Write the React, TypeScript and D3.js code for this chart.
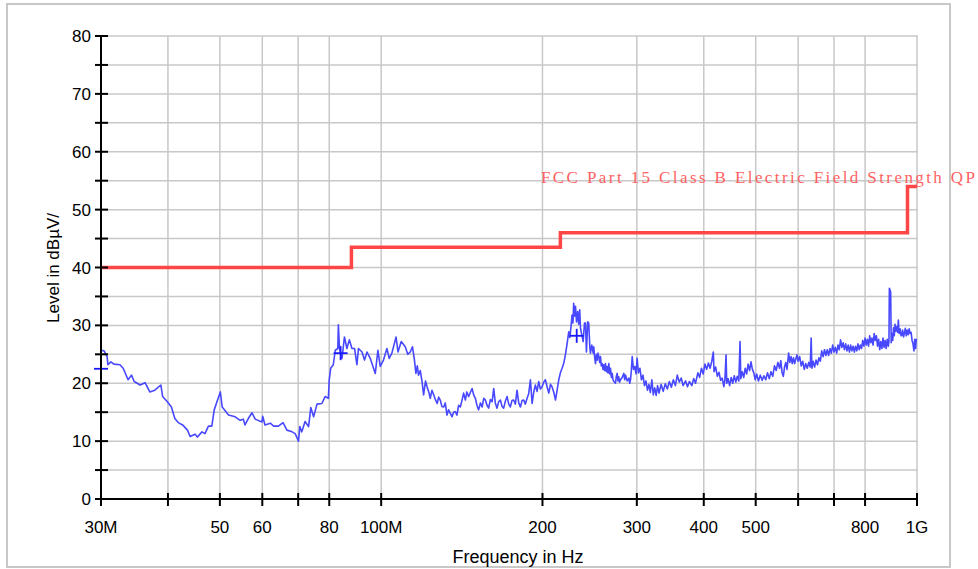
import React from 'react';
import * as d3 from 'd3';

// Frequencies in MHz, levels in dBµV/m
const xTickFreqs = [30, 40, 50, 60, 70, 80, 100, 200, 300, 400, 500, 600, 700, 800, 1000];
const xTickLabels: Record<number, string> = {
    30: '30M', 50: '50', 60: '60', 80: '80', 100: '100M',
    200: '200', 300: '300', 400: '400', 500: '500', 800: '800', 1000: '1G',
};
const yTicks = [0, 5, 10, 15, 20, 25, 30, 35, 40, 45, 50, 55, 60, 65, 70, 75, 80];
const yLabels = [0, 10, 20, 30, 40, 50, 60, 70, 80];

const limitFreq = [30, 88, 88, 216, 216, 960, 960, 1000];
const limitLevel = [40, 40, 43.5, 43.5, 46, 46, 54, 54];
const limitName = 'FCC Part 15 Class B Electric Field Strength QP';

const markers: [number, number][] = [[30, 22.5], [84, 25.2], [231.7, 28.2]];

const trace: [number, number][] = [
    [30.0, 25.7], [30.4, 25.6], [30.8, 24.6], [30.9, 23.2], [31.3, 23.7], [31.7, 23.3],
    [32.55, 23.2], [33.0, 22.6], [33.7, 20.6], [34.2, 21.4], [34.6, 20.3], [35.5, 19.7],
    [36.25, 20.1], [37.0, 18.5], [37.8, 18.8], [38.8, 19.7], [39.1, 17.7], [39.9, 16.8],
    [40.6, 15.9], [41.2, 13.9], [41.8, 13.2], [42.6, 12.8], [43.5, 11.9], [44.0, 10.8],
    [44.95, 11.2], [45.4, 10.7], [46.3, 11.6], [46.9, 11.3], [47.6, 12.6], [48.3, 12.6],
    [48.8, 15.4], [49.5, 17.1], [50.1, 18.5], [50.5, 15.9], [51.9, 14.5], [53.4, 14.2],
    [54.55, 13.6], [55.3, 13.8], [55.7, 12.8], [56.5, 13.9], [57.4, 14.9], [58.2, 13.8],
    [59.9, 13.3], [60.1, 14.3], [60.7, 12.8], [62.1, 13.1], [63.0, 12.6], [64.3, 12.6],
    [65.6, 13.2], [66.7, 11.9], [68.2, 11.6], [69.1, 11.3], [70.1, 10.0], [70.5, 12.5],
    [71.1, 11.6], [72.1, 13.4], [73.2, 12.5], [73.9, 15.8], [74.8, 14.2], [75.9, 16.4],
    [77.5, 16.5], [78.6, 17.7], [79.7, 17.4], [80.0, 20.6], [80.5, 22.6], [81.4, 23.2],
    [82.1, 25.7], [83.0, 26.0], [83.2, 30.1], [83.6, 26.0], [84.5, 24.3], [85.4, 28.0],
    [86.3, 26.0], [87.2, 27.5], [88.2, 26.0], [89.2, 26.0], [90.1, 23.2], [90.7, 26.0],
    [92.1, 25.4], [93.1, 24.0], [94.1, 25.4], [95.4, 24.3], [97.5, 21.7], [98.6, 25.7],
    [99.6, 22.9], [101.0, 24.0], [102.5, 26.0], [103.5, 24.3], [104.7, 25.2], [106.6, 28.0],
    [107.5, 25.4], [109.0, 27.2], [110.9, 26.3], [112.1, 25.0], [113.3, 25.4], [114.4, 26.3],
    [115.3, 24.2], [116.1, 21.7], [116.8, 23.0], [117.4, 21.4], [118.3, 22.2], [119.2, 20.3],
    [120.0, 18.0], [121.0, 20.4], [121.8, 19.4], [122.7, 18.5], [123.5, 17.4], [124.4, 18.8],
    [125.3, 18.0], [126.2, 17.2], [127.2, 16.5], [128.0, 17.6], [128.9, 17.1], [129.8, 16.0],
    [130.8, 15.9], [131.7, 16.6], [132.7, 14.5], [133.6, 15.4], [134.6, 14.8], [135.6, 14.2],
    [136.5, 15.0], [137.5, 15.1], [138.5, 14.5], [139.5, 16.2], [140.5, 15.9], [141.5, 17.0],
    [142.5, 18.3], [143.6, 17.1], [144.5, 18.5], [145.6, 17.7], [146.7, 18.4], [147.8, 19.1],
    [148.8, 18.0], [149.9, 17.4], [150.9, 16.2], [152.0, 15.4], [153.2, 16.6], [154.3, 15.9],
    [155.4, 17.4], [156.5, 17.1], [157.6, 16.2], [158.7, 15.7], [159.9, 17.2], [161.1, 16.8],
    [162.2, 19.1], [163.3, 16.6], [164.5, 15.7], [165.7, 16.8], [166.9, 17.1], [168.1, 16.0],
    [169.3, 15.7], [170.5, 16.9], [171.8, 17.7], [173.0, 16.4], [174.2, 15.9], [175.4, 17.0],
    [176.7, 17.1], [178.0, 16.4], [179.3, 18.8], [180.6, 16.6], [181.9, 15.9], [183.2, 17.0],
    [184.5, 17.1], [185.8, 16.4], [187.2, 17.4], [188.5, 18.2], [189.9, 20.6], [191.3, 16.5],
    [192.6, 18.4], [194.0, 19.7], [195.4, 18.6], [196.8, 20.3], [198.2, 19.0], [199.7, 19.4],
    [201.1, 20.2], [202.5, 20.6], [204.0, 19.4], [205.5, 18.3], [207.0, 19.8], [208.4, 19.4],
    [210.0, 18.4], [211.5, 17.1], [213.0, 18.8], [214.5, 20.6], [216.0, 21.8], [217.6, 22.6],
    [219.1, 23.4], [220.7, 24.9], [222.3, 26.8], [223.9, 28.9], [225.0, 27.9], [226.1, 29.8],
    [227.1, 31.8], [228.0, 30.4], [228.7, 33.8], [229.6, 31.6], [230.5, 33.3], [231.5, 30.6],
    [232.7, 32.4], [233.6, 30.2], [234.7, 32.7], [235.5, 29.5], [236.8, 28.4], [238.2, 27.2],
    [239.6, 30.4], [240.6, 30.4], [241.6, 25.4], [242.9, 30.6], [244.0, 30.4], [245.1, 26.3],
    [245.8, 25.2], [247.2, 26.6], [248.7, 25.2], [249.3, 26.3], [250.2, 24.6], [251.2, 23.4],
    [252.1, 25.0], [253.0, 24.0], [253.9, 25.2], [254.8, 24.6], [255.7, 23.6], [256.6, 24.6],
    [257.5, 23.0], [258.5, 23.4], [259.4, 22.4], [260.3, 23.2], [261.2, 22.2], [262.2, 23.4],
    [263.1, 22.0], [264.1, 22.9], [265.0, 21.8], [266.0, 23.4], [267.0, 21.6], [267.9, 22.6],
    [268.9, 21.0], [269.9, 21.7], [270.8, 20.6], [271.8, 20.3], [273.7, 20.0], [274.7, 21.2],
    [275.7, 21.7], [276.6, 20.4], [277.6, 21.1], [278.6, 20.2], [279.7, 20.6], [281.7, 21.0],
    [283.7, 21.7], [284.8, 20.6], [285.8, 21.4], [287.9, 20.4], [289.9, 20.9], [291.0, 20.0],
    [292.0, 20.6], [293.0, 22.2], [294.1, 24.6], [295.7, 22.4], [297.4, 22.9], [298.9, 21.6],
    [300.4, 24.3], [302, 21.8], [304, 22.6], [306, 20.6], [308, 21.4], [310, 19.6], [312, 20.4],
    [314, 18.8], [316, 19.8], [318, 18.4], [320, 20.6], [322, 18.0], [324, 19.2], [326, 17.9],
    [328, 19.6], [330, 18.3], [333, 19.8], [336, 18.6], [339, 19.9], [342, 19.0], [345, 20.3],
    [348, 19.3], [351, 20.6], [354, 19.6], [357, 21.4], [360, 20.2], [363, 20.9], [366, 19.6],
    [370, 20.4], [373, 19.4], [376, 20.3], [380, 19.6], [383, 20.8], [386, 20.0], [390, 21.8],
    [393, 21.0], [396, 22.6], [399, 21.6], [402, 23.3], [405, 22.4], [408, 23.5], [411, 22.6],
    [414, 23.8], [416.8, 25.4], [418, 22.0], [421, 22.8], [424, 21.2], [427, 21.9], [430, 20.5],
    [433, 20.9], [436, 19.4], [438, 20.6], [440.2, 24.9], [441.5, 20.0], [444, 20.8], [447, 19.6],
    [450, 21.0], [453, 20.0], [456, 21.3], [459, 20.2], [462, 21.2], [465, 20.4], [467.5, 27.2],
    [469, 20.8], [472, 22.0], [475, 21.0], [478, 22.6], [481, 21.6], [484, 23.3], [487, 22.2],
    [490, 23.7], [493, 22.4], [496, 21.8], [499, 20.6], [502, 21.6], [506, 20.4], [510, 21.4],
    [514, 20.5], [518, 21.3], [522, 20.6], [526, 21.8], [530, 20.8], [534, 22.0], [538, 21.2],
    [542, 23.0], [546, 22.2], [550, 23.6], [554, 22.6], [557, 23.9], [560, 21.8], [563, 21.2],
    [566, 22.8], [569, 23.6], [572, 22.4], [576, 25.2], [579, 23.6], [582, 24.6], [585, 23.4],
    [588, 24.4], [591, 23.4], [594, 24.2], [597, 24.9], [600, 23.8], [604, 24.6], [608, 23.0],
    [612, 23.8], [616, 22.4], [620, 23.4], [624, 22.6], [628, 23.6], [632, 22.8], [634.6, 27.8],
    [636.5, 22.6], [640, 23.8], [644, 22.8], [648, 24.0], [652, 23.2], [656, 24.4], [660, 23.8],
    [664, 25.6], [668, 24.6], [672, 25.8], [676, 24.8], [680, 25.8], [684, 24.8], [688, 26.0],
    [692, 25.2], [696, 26.6], [700, 25.4], [704, 26.2], [708, 25.2], [712, 26.6], [716, 25.8],
    [720, 27.5], [724, 26.2], [728, 27.0], [732, 25.8], [736, 26.8], [740, 25.6], [744, 26.6],
    [748, 25.4], [752, 26.6], [756, 25.6], [760, 26.4], [764, 25.4], [768, 26.4], [772, 25.6],
    [776, 26.8], [780, 25.8], [784, 26.6], [788, 26.0], [792, 27.4], [796, 26.4], [800, 27.8],
    [804, 26.6], [808, 27.6], [812, 26.4], [816, 28.2], [820, 27.0], [824, 27.8], [828, 26.6],
    [832, 28.6], [836, 27.4], [840, 28.2], [844, 26.4], [848, 27.6], [852, 25.8], [856, 27.2],
    [860, 26.0], [864, 27.8], [868, 26.2], [872, 27.4], [876, 26.0], [880, 27.6], [884, 26.4],
    [886.5, 27.2], [888, 36.4], [893, 35.8], [895, 27.0], [898, 28.6], [901, 27.4], [904, 29.6],
    [907, 28.2], [910, 30.2], [913, 29.0], [917, 29.8], [920, 28.8], [923, 30.9], [926, 28.6],
    [930, 29.4], [934, 28.2], [937, 28.3], [940, 29.2], [944, 28.0], [948, 28.8], [951, 29.5],
    [955, 28.2], [959, 29.2], [963, 28.4], [967, 29.4], [971, 28.6], [975, 28.8], [979, 27.4],
    [983, 26.8], [987, 25.6], [990, 27.6], [994, 26.0], [997, 27.6], [1000, 27.5],
];

const W = 978;
const H = 569;
const plot = { left: 101, right: 917, top: 36, bottom: 499 };

const x = d3.scaleLog().domain([30, 1000]).range([plot.left, plot.right]);
const y = d3.scaleLinear().domain([0, 80]).range([plot.bottom, plot.top]);

const sans = 'Arial, "Liberation Sans", sans-serif';

const App = () => {
    const traceLine = d3.line<[number, number]>()
        .x(d => x(d[0]))
        .y(d => y(d[1]));

    const limitLine = d3.line<number>()
        .x(d => x(limitFreq[d]))
        .y(d => y(limitLevel[d]));

    return (
        <svg width={W} height={H} style={{ position: 'absolute', left: 0, top: 0, background: '#fff' }}>
            <rect x={7} y={4} width={943} height={563} fill="#fff" stroke="#c8c8c8" strokeWidth={2} />

            {/* grid */}
            <g stroke="#c8c8c8" strokeWidth={1.5}>
                {yTicks.map(t => (
                    <line key={'gy' + t} x1={plot.left} x2={plot.right + 1} y1={y(t)} y2={y(t)} />
                ))}
                {xTickFreqs.slice(1).map(f => (
                    <line key={'gx' + f} x1={x(f)} x2={x(f)} y1={plot.top} y2={plot.bottom} />
                ))}
            </g>

            {/* limit */}
            <path d={limitLine(d3.range(limitFreq.length)) || ''} fill="none" stroke="#ff4646" strokeWidth={3.5} />
            <text x={541} y={183} fill="#ff6262" fontFamily='"Liberation Serif", serif' fontSize={17}
                textLength={434} lengthAdjust="spacing">{limitName}</text>

            {/* trace */}
            <path d={traceLine(trace) || ''} fill="none" stroke="#4848ff" strokeWidth={1.6} strokeLinejoin="round" />

            {/* markers */}
            <g stroke="#1a1aff" strokeWidth={1.8}>
                {markers.map(([f, v], i) => (
                    <g key={'m' + i}>
                        <line x1={x(f) - 7} x2={x(f) + 7} y1={y(v)} y2={y(v)} />
                        <line x1={x(f)} x2={x(f)} y1={y(v) - 7} y2={y(v) + 7} />
                    </g>
                ))}
            </g>

            {/* axes */}
            <g stroke="#000" strokeWidth={2}>
                <line x1={plot.left} x2={plot.left} y1={plot.top} y2={plot.bottom} />
                <line x1={plot.left} x2={plot.right} y1={plot.bottom} y2={plot.bottom} />
                {yTicks.map(t => (
                    <line key={'ty' + t} x1={plot.left - 6} x2={plot.left + 7} y1={y(t)} y2={y(t)} />
                ))}
                {xTickFreqs.map(f => (
                    <line key={'tx' + f} x1={x(f)} x2={x(f)} y1={plot.bottom - 6} y2={plot.bottom + 7} />
                ))}
            </g>

            <g fontFamily={sans} fontSize={17} fill="#000">
                {yLabels.map(t => (
                    <text key={'ly' + t} x={91} y={y(t)} dy="0.36em" textAnchor="end">{t}</text>
                ))}
                {xTickFreqs.filter(f => xTickLabels[f]).map(f => (
                    <text key={'lx' + f} x={x(f)} y={533} textAnchor="middle">{xTickLabels[f]}</text>
                ))}
                <text x={518} y={563} textAnchor="middle" fontSize={18}>Frequency in Hz</text>
                <text transform="translate(59,268) rotate(-90)" textAnchor="middle">Level in dBµV/</text>
            </g>
        </svg>
    );
};

export default App;
